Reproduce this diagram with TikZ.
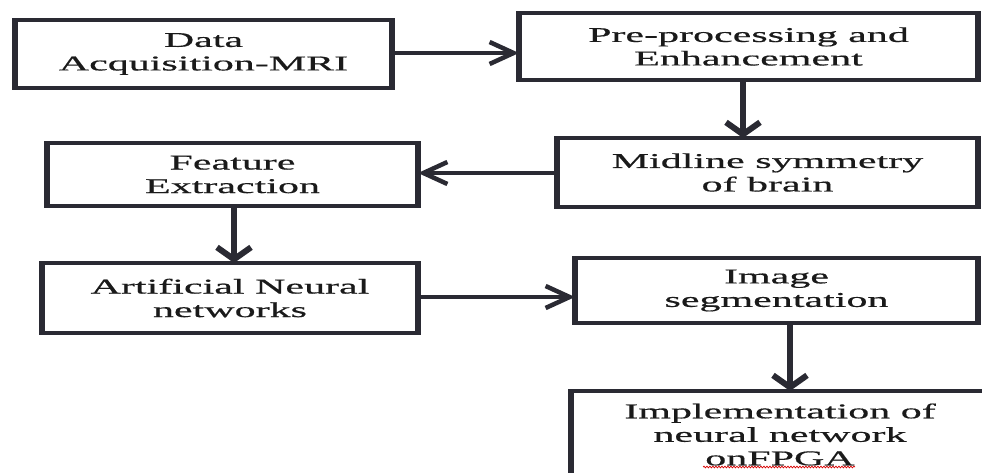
\documentclass[tikz,border=0pt]{standalone}
\usepackage{fontspec}
\setmainfont[FakeStretch=2.0,FakeBold=0.6]{Liberation Serif}
\usetikzlibrary{arrows.meta,decorations.pathmorphing,calc}
\definecolor{bc}{HTML}{2A2A33}
\definecolor{tc}{HTML}{1A1A1A}
\begin{document}
\begin{tikzpicture}[x=1pt,y=-1pt,
  box/.style={draw=bc, line width=4pt, fill=white, text=tc, align=center,
    inner sep=0pt, outer sep=0pt, font=\fontsize{21}{23.5}\selectfont},
  harrow/.style={draw=bc, line width=4.5pt, -{Straight Barb[length=24pt,width=22pt]}},
  varrow/.style={draw=bc, line width=6pt, -{Straight Barb[length=12pt,width=34pt]}},
  vside/.style={draw=bc, line width=6.5pt, shorten <=-2pt, shorten >=-2pt},
  squiggle/.style={draw=red!85!black, line width=0.7pt, decorate,
    decoration={snake, amplitude=0.9pt, segment length=3pt}}]
\useasboundingbox (0,0) rectangle (982,472);
\clip (0,0) rectangle (982,472);

\node[box, minimum width=377pt, minimum height=68pt] (b1) at (203.5,54) {Data\\Acquisition-MRI};
\node[box, minimum width=459pt, minimum height=67pt] (b2) at (748.5,46.5) {Pre-processing and\\Enhancement};
\node[box, minimum width=421pt, minimum height=69pt] (b3) at (767.5,172.5) {Midline symmetry\\of brain};
\node[box, minimum width=371pt, minimum height=63pt] (b4) at (232.5,174.5) {Feature\\Extraction};
\node[box, minimum width=376pt, minimum height=70pt] (b5) at (230,298) {Artificial Neural\\networks};
\node[box, minimum width=403pt, minimum height=65pt] (b6) at (776.5,290.5) {Image\\segmentation};
\node[box, minimum width=418pt, minimum height=87pt] (b7) at (780,434.5) {Implementation of\\neural network\\onFPGA};

\foreach \n in {b1,b2,b3,b4,b5,b6,b7}{
  \draw[vside] (\n.north west) -- (\n.south west);
  \draw[vside] (\n.north east) -- (\n.south east);
}

\draw[harrow] (b1.east |- 0,53) -- (b2.west |- 0,53);
\draw[varrow] (743,0 |- b2.south) -- (743,0 |- b3.north);
\draw[harrow] (b3.west |- 0,173) -- (b4.east |- 0,173);
\draw[varrow] (234,0 |- b4.south) -- (234,0 |- b5.north);
\draw[harrow] (b5.east |- 0,297) -- (b6.west |- 0,297);
\draw[varrow] (790,0 |- b6.south) -- (790,0 |- b7.north);

\coordinate (sqa) at ($(b7.north)+(-77,76)$);
\coordinate (sqb) at ($(b7.north)+(75,76)$);
\draw[squiggle] (sqa) -- (sqb);
\end{tikzpicture}
\end{document}
